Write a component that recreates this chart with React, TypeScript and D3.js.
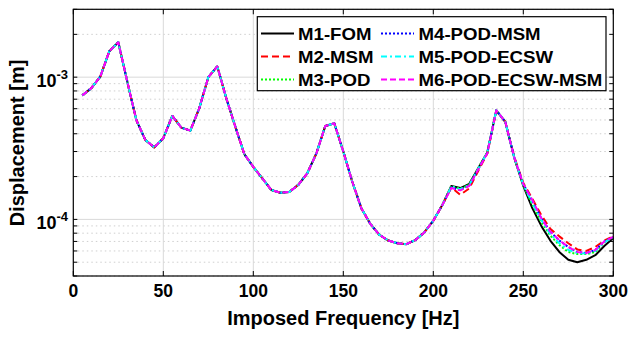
import React from "react";
import * as d3 from "d3";

const freqs: number[] = [
  5, 10, 15, 20, 25, 30, 35, 40, 45, 50, 55, 60, 65, 70, 75, 80, 85, 90, 95, 100,
  105, 110, 115, 120, 125, 130, 135, 140, 145, 150, 155, 160, 165, 170, 175, 180, 185, 190, 195, 200,
  205, 210, 215, 220, 225, 230, 235, 240, 245, 250, 255, 260, 265, 270, 275, 280, 285, 290, 295, 300,
];

// shared response 5..205 Hz (all models coincide)
const commonHead: number[] = [
  7.45e-4, 8.37e-4, 1.01e-3, 1.52e-3, 1.76e-3, 9.3e-4, 5.0e-4, 3.62e-4, 3.21e-4, 3.72e-4,
  5.34e-4, 4.42e-4, 4.21e-4, 6.05e-4, 1.0e-3, 1.19e-3, 7.1e-4, 4.49e-4, 2.88e-4, 2.34e-4,
  1.94e-4, 1.61e-4, 1.54e-4, 1.56e-4, 1.75e-4, 2.11e-4, 2.9e-4, 4.54e-4, 4.74e-4, 3.0e-4,
  1.84e-4, 1.2e-4, 9.3e-5, 7.8e-5, 7.1e-5, 6.8e-5, 6.7e-5, 7.15e-5, 8.1e-5, 9.8e-5,
  1.26e-4,
];

// 210..300 Hz per model
const tailM1: number[] = [1.72e-4, 1.66e-4, 1.78e-4, 2.3e-4, 2.95e-4, 5.85e-4, 4.85e-4, 2.7e-4, 1.72e-4, 1.2e-4, 9.0e-5, 7.1e-5, 5.9e-5, 5.2e-5, 5.0e-5, 5.2e-5, 5.6e-5, 6.5e-5, 7.4e-5];
const tailM2: number[] = [1.68e-4, 1.49e-4, 1.65e-4, 2.2e-4, 2.9e-4, 5.8e-4, 4.85e-4, 2.75e-4, 1.8e-4, 1.4e-4, 1.07e-4, 8.6e-5, 7.6e-5, 6.8e-5, 6.15e-5, 6.0e-5, 6.4e-5, 7.1e-5, 7.6e-5];
const tailM3: number[] = [1.72e-4, 1.64e-4, 1.76e-4, 2.3e-4, 2.95e-4, 5.85e-4, 4.85e-4, 2.7e-4, 1.74e-4, 1.27e-4, 9.6e-5, 7.7e-5, 6.6e-5, 5.9e-5, 5.7e-5, 5.7e-5, 5.9e-5, 6.9e-5, 7.5e-5];
const tailM4: number[] = [1.68e-4, 1.61e-4, 1.73e-4, 2.26e-4, 2.93e-4, 5.85e-4, 4.85e-4, 2.72e-4, 1.77e-4, 1.35e-4, 1.02e-4, 8.2e-5, 7.1e-5, 6.4e-5, 5.9e-5, 5.8e-5, 6.1e-5, 7.0e-5, 7.5e-5];
const tailM5: number[] = [1.7e-4, 1.63e-4, 1.75e-4, 2.28e-4, 2.95e-4, 5.85e-4, 4.85e-4, 2.71e-4, 1.75e-4, 1.3e-4, 9.9e-5, 7.9e-5, 6.8e-5, 6.1e-5, 5.8e-5, 5.75e-5, 6.0e-5, 6.9e-5, 7.5e-5];
const tailM6: number[] = [1.66e-4, 1.6e-4, 1.72e-4, 2.25e-4, 2.92e-4, 5.85e-4, 4.85e-4, 2.72e-4, 1.77e-4, 1.37e-4, 1.02e-4, 8.2e-5, 7.15e-5, 6.4e-5, 5.9e-5, 5.8e-5, 6.1e-5, 7.0e-5, 7.55e-5];

const seriesNames: string[] = ["M1-FOM", "M2-MSM", "M3-POD", "M4-POD-MSM", "M5-POD-ECSW", "M6-POD-ECSW-MSM"];
const seriesTails: number[][] = [tailM1, tailM2, tailM3, tailM4, tailM5, tailM6];
const seriesColors: string[] = ["#000000", "#ff0000", "#00ff00", "#0000ff", "#00ffff", "#ff00ff"];
const seriesDash: string[] = ["", "7,4", "2,2", "2,2", "6,3,2,3", "6,3"];

const xTicks: number[] = [0, 50, 100, 150, 200, 250, 300];
const yMajor: number[] = [1e-4, 1e-3];
const yMajorExp: string[] = ["-4", "-3"];

const W = 630, H = 337;
const M = { left: 73.3, right: 613.3, top: 9.3, bottom: 276 };
const FONT = "'Liberation Sans', Arial, Helvetica, sans-serif";

export default function App() {
  const x = d3.scaleLinear().domain([0, 300]).range([M.left, M.right]);
  const y = d3.scaleLog().domain([4e-5, 3e-3]).range([M.bottom, M.top]);
  const minor = y.ticks().filter((t) => !yMajor.some((m) => Math.abs(m - t) / m < 1e-6));

  const line = d3
    .line<[number, number]>()
    .x((d) => x(d[0]))
    .y((d) => y(d[1]));

  const series = seriesTails.map((tail) => {
    const vals = commonHead.concat(tail);
    return freqs.map((f, i) => [f, vals[i]] as [number, number]);
  });

  const legX = 257.3, legY = 16.7, legW = 348.7, legH = 74;
  const rowY = [33.5, 56.5, 79.5];
  const cols = [{ lx: 261, tx: 298 }, { lx: 381, tx: 418.5 }];

  return (
    <svg width={W} height={H} style={{ position: "absolute", left: 0, top: 0, background: "#fff" }} fontFamily={FONT}>
      <rect x={0} y={0} width={W} height={H} fill="#fff" />
      {/* minor grid */}
      {minor.map((t, i) => (
        <line key={"mg" + i} x1={M.left} x2={M.right} y1={y(t)} y2={y(t)} stroke="#cfcfcf" strokeWidth={1} strokeDasharray="1.5,3" />
      ))}
      {/* major grid */}
      {xTicks.slice(1, -1).map((t) => (
        <line key={"gx" + t} x1={x(t)} x2={x(t)} y1={M.top} y2={M.bottom} stroke="#d9d9d9" strokeWidth={1} />
      ))}
      {yMajor.map((t) => (
        <line key={"gy" + t} x1={M.left} x2={M.right} y1={y(t)} y2={y(t)} stroke="#d9d9d9" strokeWidth={1} />
      ))}
      {/* series */}
      {series.map((s, i) => (
        <path key={"s" + i} d={line(s) || ""} fill="none" stroke={seriesColors[i]} strokeWidth={2} strokeDasharray={seriesDash[i] || undefined} strokeLinejoin="round" />
      ))}
      {/* axes box */}
      <rect x={M.left} y={M.top} width={M.right - M.left} height={M.bottom - M.top} fill="none" stroke="#000" strokeWidth={1.2} />
      {/* ticks */}
      {xTicks.map((t) => (
        <g key={"xt" + t}>
          <line x1={x(t)} x2={x(t)} y1={M.bottom} y2={M.bottom - 5} stroke="#000" />
          <line x1={x(t)} x2={x(t)} y1={M.top} y2={M.top + 5} stroke="#000" />
          <text x={x(t)} y={297} textAnchor="middle" fontSize={17.5} fontWeight="bold">{t}</text>
        </g>
      ))}
      {y.ticks().map((t, i) => (
        <g key={"yt" + i}>
          <line x1={M.left} x2={M.left + 4} y1={y(t)} y2={y(t)} stroke="#000" />
          <line x1={M.right} x2={M.right - 4} y1={y(t)} y2={y(t)} stroke="#000" />
        </g>
      ))}
      {yMajor.map((t, i) => (
        <text key={"yl" + t} x={68} y={y(t) + 10} textAnchor="end" fontSize={18} fontWeight="bold">
          10<tspan dy={-8} fontSize={13}>{yMajorExp[i]}</tspan>
        </text>
      ))}
      {/* axis labels */}
      <text x={(M.left + M.right) / 2} y={325} textAnchor="middle" fontSize={20} fontWeight="bold">Imposed Frequency [Hz]</text>
      <text transform={`translate(24,143) rotate(-90)`} textAnchor="middle" fontSize={20} fontWeight="bold">Displacement [m]</text>
      {/* legend */}
      <rect x={legX} y={legY} width={legW} height={legH} fill="#fff" stroke="#000" strokeWidth={1.2} />
      {seriesNames.map((name, i) => {
        const c = cols[Math.floor(i / 3)];
        const ry = rowY[i % 3];
        return (
          <g key={"lg" + i}>
            <line x1={c.lx} x2={c.lx + 33} y1={ry} y2={ry} stroke={seriesColors[i]} strokeWidth={2} strokeDasharray={seriesDash[i] || undefined} />
            <text transform={`translate(${c.tx},${ry + 6}) scale(1.13,1)`} fontSize={16.5} fontWeight="bold">{name}</text>
          </g>
        );
      })}
    </svg>
  );
}
